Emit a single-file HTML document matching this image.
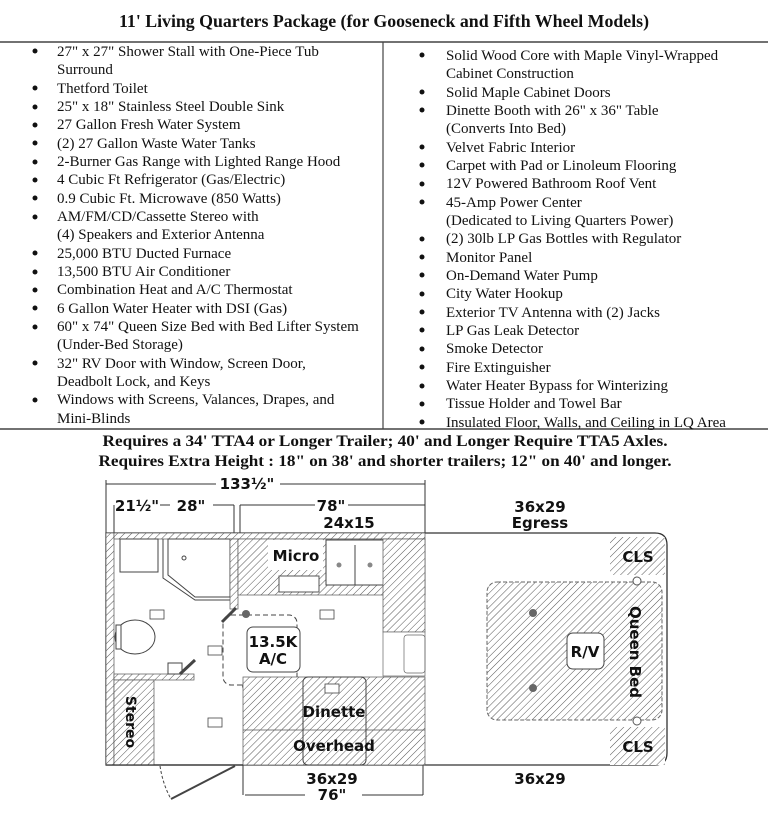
<!DOCTYPE html>
<html><head><meta charset="utf-8"><style>
html,body{margin:0;padding:0;background:#fff;}
svg{display:block;}
.t{font-family:"Liberation Serif",serif;font-size:15px;fill:#111;}
.b{font-family:"Liberation Serif",serif;font-weight:bold;fill:#111;}
.s{font-family:"DejaVu Sans","Liberation Sans",sans-serif;font-weight:bold;fill:#111;}
</style></head><body>
<svg width="768" height="832" viewBox="0 0 768 832" xmlns="http://www.w3.org/2000/svg">
<defs>
<pattern id="h" patternUnits="userSpaceOnUse" width="5" height="5" patternTransform="rotate(45)">
<rect width="5" height="5" fill="#fff"/><line x1="0" y1="0" x2="0" y2="5" stroke="#555" stroke-width="1"/>
</pattern>
</defs>
<text class="b" x="384" y="27" font-size="18" text-anchor="middle" textLength="530" lengthAdjust="spacingAndGlyphs">11' Living Quarters Package (for Gooseneck and Fifth Wheel Models)</text>
<line x1="0" y1="42" x2="768" y2="42" stroke="#444" stroke-width="1.5"/>
<line x1="383" y1="42" x2="383" y2="429" stroke="#444" stroke-width="1.2"/>
<line x1="0" y1="429" x2="768" y2="429" stroke="#444" stroke-width="1.5"/>
<g class="t">
<text x="57" y="56">27" x 27" Shower Stall with One-Piece Tub</text>
<text x="57" y="74">Surround</text>
<text x="57" y="93">Thetford Toilet</text>
<text x="57" y="111">25" x 18" Stainless Steel Double Sink</text>
<text x="57" y="129">27 Gallon Fresh Water System</text>
<text x="57" y="148">(2) 27 Gallon Waste Water Tanks</text>
<text x="57" y="166">2-Burner Gas Range with Lighted Range Hood</text>
<text x="57" y="184">4 Cubic Ft Refrigerator (Gas/Electric)</text>
<text x="57" y="203">0.9 Cubic Ft. Microwave (850 Watts)</text>
<text x="57" y="221">AM/FM/CD/Cassette Stereo with</text>
<text x="57" y="239">(4) Speakers and Exterior Antenna</text>
<text x="57" y="258">25,000 BTU Ducted Furnace</text>
<text x="57" y="276">13,500 BTU Air Conditioner</text>
<text x="57" y="294">Combination Heat and A/C Thermostat</text>
<text x="57" y="313">6 Gallon Water Heater with DSI (Gas)</text>
<text x="57" y="331">60" x 74" Queen Size Bed with Bed Lifter System</text>
<text x="57" y="349">(Under-Bed Storage)</text>
<text x="57" y="368">32" RV Door with Window, Screen Door,</text>
<text x="57" y="386">Deadbolt Lock, and Keys</text>
<text x="57" y="404">Windows with Screens, Valances, Drapes, and</text>
<text x="57" y="423">Mini-Blinds</text>
<text x="446" y="60">Solid Wood Core with Maple Vinyl-Wrapped</text>
<text x="446" y="78">Cabinet Construction</text>
<text x="446" y="97">Solid Maple Cabinet Doors</text>
<text x="446" y="115">Dinette Booth with 26" x 36" Table</text>
<text x="446" y="133">(Converts Into Bed)</text>
<text x="446" y="152">Velvet Fabric Interior</text>
<text x="446" y="170">Carpet with Pad or Linoleum Flooring</text>
<text x="446" y="188">12V Powered Bathroom Roof Vent</text>
<text x="446" y="207">45-Amp Power Center</text>
<text x="446" y="225">(Dedicated to Living Quarters Power)</text>
<text x="446" y="243">(2) 30lb LP Gas Bottles with Regulator</text>
<text x="446" y="262">Monitor Panel</text>
<text x="446" y="280">On-Demand Water Pump</text>
<text x="446" y="298">City Water Hookup</text>
<text x="446" y="317">Exterior TV Antenna with (2) Jacks</text>
<text x="446" y="335">LP Gas Leak Detector</text>
<text x="446" y="353">Smoke Detector</text>
<text x="446" y="372">Fire Extinguisher</text>
<text x="446" y="390">Water Heater Bypass for Winterizing</text>
<text x="446" y="408">Tissue Holder and Towel Bar</text>
<text x="446" y="427">Insulated Floor, Walls, and Ceiling in LQ Area</text>
</g>
<g fill="#111">
<circle cx="35" cy="51" r="2.5"/><circle cx="35" cy="88" r="2.5"/><circle cx="35" cy="107" r="2.5"/><circle cx="35" cy="125" r="2.5"/><circle cx="35" cy="143" r="2.5"/><circle cx="35" cy="162" r="2.5"/><circle cx="35" cy="180" r="2.5"/><circle cx="35" cy="198" r="2.5"/><circle cx="35" cy="217" r="2.5"/><circle cx="35" cy="253" r="2.5"/><circle cx="35" cy="272" r="2.5"/><circle cx="35" cy="290" r="2.5"/><circle cx="35" cy="308" r="2.5"/><circle cx="35" cy="327" r="2.5"/><circle cx="35" cy="363" r="2.5"/><circle cx="35" cy="400" r="2.5"/>
<circle cx="422" cy="55" r="2.5"/><circle cx="422" cy="92" r="2.5"/><circle cx="422" cy="110" r="2.5"/><circle cx="422" cy="147" r="2.5"/><circle cx="422" cy="165" r="2.5"/><circle cx="422" cy="184" r="2.5"/><circle cx="422" cy="202" r="2.5"/><circle cx="422" cy="239" r="2.5"/><circle cx="422" cy="257" r="2.5"/><circle cx="422" cy="275" r="2.5"/><circle cx="422" cy="294" r="2.5"/><circle cx="422" cy="312" r="2.5"/><circle cx="422" cy="330" r="2.5"/><circle cx="422" cy="349" r="2.5"/><circle cx="422" cy="367" r="2.5"/><circle cx="422" cy="386" r="2.5"/><circle cx="422" cy="404" r="2.5"/><circle cx="422" cy="422" r="2.5"/>
</g>
<text class="b" x="385" y="446" font-size="16" text-anchor="middle" textLength="565" lengthAdjust="spacingAndGlyphs">Requires a 34' TTA4 or Longer Trailer; 40' and Longer Require TTA5 Axles.</text>
<text class="b" x="385" y="466" font-size="16" text-anchor="middle" textLength="573" lengthAdjust="spacingAndGlyphs">Requires Extra Height : 18" on 38' and shorter trailers; 12" on 40' and longer.</text>

<g stroke="#333" stroke-width="1" fill="none">
<line x1="106" y1="484" x2="216" y2="484"/><line x1="280" y1="484" x2="425" y2="484"/>
<line x1="106" y1="480" x2="106" y2="533"/><line x1="425" y1="480" x2="425" y2="533"/>
<line x1="114" y1="505" x2="114" y2="533"/><line x1="234" y1="505" x2="234" y2="533"/><line x1="240" y1="505" x2="240" y2="533"/>
<line x1="160" y1="505" x2="170" y2="505"/><line x1="213" y1="505" x2="234" y2="505"/>
<line x1="240" y1="505" x2="315" y2="505"/><line x1="348" y1="505" x2="425" y2="505"/>
<line x1="243" y1="765" x2="243" y2="795"/><line x1="423" y1="765" x2="423" y2="795"/>
<line x1="245" y1="795" x2="305" y2="795"/><line x1="362" y1="795" x2="423" y2="795"/>
</g>
<g class="s" font-size="15" text-anchor="middle">
<text x="247" y="489">133½"</text>
<text x="137" y="511">21½"</text>
<text x="191" y="511">28"</text>
<text x="331" y="511">78"</text>
<text x="349" y="528">24x15</text>
<text x="540" y="512">36x29</text>
<text x="540" y="528">Egress</text>
<text x="332" y="784">36x29</text>
<text x="332" y="800">76"</text>
<text x="540" y="784">36x29</text>
</g>

<path d="M106 533 H655 Q667 533 667 545 V753 Q667 765 655 765 H106 Z" fill="#fff" stroke="#333" stroke-width="1.3"/>
<rect x="106" y="533" width="8" height="232" fill="url(#h)" stroke="#555" stroke-width="0.7"/>
<rect x="114" y="533" width="311" height="6" fill="url(#h)" stroke="#555" stroke-width="0.7"/>
<rect x="120" y="539" width="38" height="33" fill="#fff" stroke="#444"/>
<path d="M168 539 H230 V597 H195 L168 575 Z" fill="#fff" stroke="#444"/>
<path d="M163 539 V578 L195 600 H232" fill="none" stroke="#444"/>
<circle cx="184" cy="558" r="2" fill="none" stroke="#444"/>
<rect x="230" y="539" width="8" height="70" fill="url(#h)" stroke="#555" stroke-width="0.7"/>
<line x1="222" y1="622" x2="236" y2="608" stroke="#444" stroke-width="3"/>
<rect x="114" y="674" width="80" height="6" fill="url(#h)" stroke="#555" stroke-width="0.7"/>
<ellipse cx="135" cy="637" rx="20" ry="17" fill="#fff" stroke="#444"/>
<rect x="116" y="625" width="5" height="24" fill="#fff" stroke="#444"/>
<rect x="168" y="663" width="14" height="11" fill="#fff" stroke="#444"/>
<line x1="180" y1="674" x2="195" y2="660" stroke="#444" stroke-width="3"/>
<rect x="114" y="680" width="40" height="85" fill="url(#h)" stroke="#555" stroke-width="0.7"/>
<text class="s" font-size="14" transform="translate(126,722) rotate(90)" text-anchor="middle">Stereo</text>
<rect x="238" y="539" width="187" height="56" fill="url(#h)" stroke="#555" stroke-width="0.7"/>
<rect x="268" y="540" width="55" height="30" fill="#fff"/>
<text class="s" x="296" y="561" font-size="15" text-anchor="middle">Micro</text>
<rect x="279" y="576" width="40" height="16" fill="#fff" stroke="#555"/>
<rect x="326" y="540" width="59" height="45" fill="#fff" stroke="#444"/>
<line x1="355" y1="545" x2="355" y2="585" stroke="#444"/>
<circle cx="339" cy="565" r="2.5" fill="#888"/><circle cx="370" cy="565" r="2.5" fill="#888"/>
<rect x="383" y="539" width="42" height="93" fill="url(#h)" stroke="#555" stroke-width="0.7"/>
<rect x="383" y="632" width="42" height="44" fill="#fff" stroke="#666" stroke-width="0.7"/>
<rect x="404" y="635" width="21" height="38" rx="3" fill="none" stroke="#666" stroke-width="0.7"/>
<rect x="223" y="615" width="74" height="70" rx="8" fill="none" stroke="#444" stroke-dasharray="5,3"/>
<rect x="247" y="627" width="53" height="45" rx="6" fill="#fff" stroke="#444"/>
<text class="s" x="273" y="647" font-size="15" text-anchor="middle">13.5K</text>
<text class="s" x="273" y="664" font-size="15" text-anchor="middle">A/C</text>
<circle cx="246" cy="614" r="4" fill="#666"/><circle cx="246" cy="686" r="4" fill="#666"/>
<rect x="243" y="677" width="182" height="88" fill="url(#h)" stroke="#555" stroke-width="0.7"/>
<rect x="303" y="677" width="63" height="88" rx="5" fill="url(#h)" stroke="#444"/>
<line x1="243" y1="730" x2="425" y2="730" stroke="#555" stroke-width="0.7"/>
<text class="s" x="334" y="717" font-size="15" text-anchor="middle">Dinette</text>
<text class="s" x="334" y="751" font-size="15" text-anchor="middle">Overhead</text>
<g fill="#fff" stroke="#444" stroke-width="0.8">
<rect x="150" y="610" width="14" height="9"/><rect x="208" y="646" width="14" height="9"/><rect x="320" y="610" width="14" height="9"/><rect x="325" y="684" width="14" height="9"/><rect x="208" y="718" width="14" height="9"/><rect x="523" y="648" width="14" height="9"/><rect x="615" y="648" width="14" height="9"/>
</g>
<line x1="106" y1="765" x2="243" y2="765" stroke="#333" stroke-width="1.3"/>
<line x1="168" y1="770" x2="235" y2="768" stroke="#fff" stroke-width="3"/>
<line x1="171" y1="799" x2="235" y2="766" stroke="#444" stroke-width="2"/>
<path d="M160 766 Q163 785 171 799" fill="none" stroke="#444" stroke-dasharray="3,2"/>
<rect x="487" y="582" width="175" height="138" rx="10" fill="url(#h)" stroke="#666" stroke-dasharray="4,2"/>
<rect x="610" y="537" width="55" height="38" fill="url(#h)"/>
<rect x="610" y="727" width="55" height="38" fill="url(#h)"/>
<text class="s" x="638" y="562" font-size="15" text-anchor="middle">CLS</text>
<text class="s" x="638" y="752" font-size="15" text-anchor="middle">CLS</text>
<circle cx="637" cy="581" r="4" fill="#fff" stroke="#555"/>
<circle cx="637" cy="721" r="4" fill="#fff" stroke="#555"/>
<circle cx="533" cy="613" r="4" fill="#666"/><circle cx="533" cy="688" r="4" fill="#666"/>
<rect x="567" y="633" width="37" height="36" rx="6" fill="#fff" stroke="#444"/>
<text class="s" x="585" y="657" font-size="15" text-anchor="middle">R/V</text>
<text class="s" font-size="15" transform="translate(630,652) rotate(90)" text-anchor="middle">Queen Bed</text>
</svg>
</body></html>
